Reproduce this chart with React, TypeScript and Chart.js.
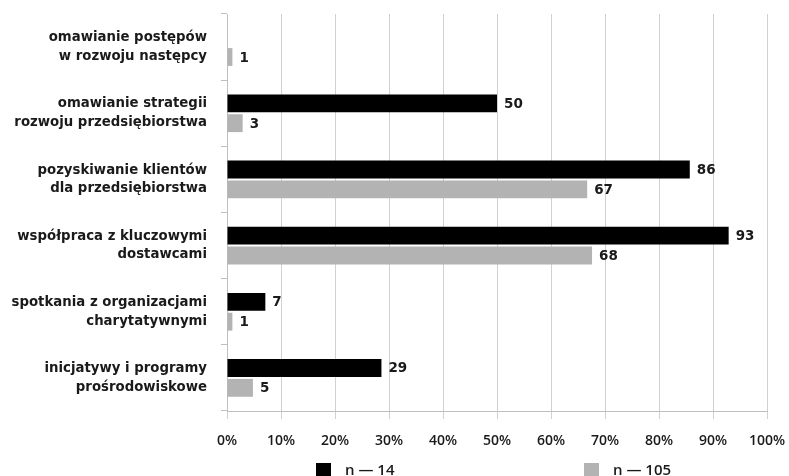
import React, { useEffect, useRef } from "react";
import { Chart, registerables } from "chart.js";

Chart.register(...registerables);

const categories: string[][] = [
  ["omawianie postępów", "w rozwoju następcy"],
  ["omawianie strategii", "rozwoju przedsiębiorstwa"],
  ["pozyskiwanie klientów", "dla przedsiębiorstwa"],
  ["współpraca z kluczowymi", "dostawcami"],
  ["spotkania z organizacjami", "charytatywnymi"],
  ["inicjatywy i programy", "prośrodowiskowe"],
];

const seriesNames = ["n — 14", "n — 105"];
const valuesN14: (number | null)[] = [null, 50, 85.7, 92.9, 7.1, 28.6];
const valuesN105: (number | null)[] = [1.0, 2.9, 66.7, 67.6, 1.0, 4.8];
const xTicks = [0, 10, 20, 30, 40, 50, 60, 70, 80, 90, 100];

const COLORS = ["#000000", "#b3b3b3"];
const LABEL_FONT = "bold 13.5px 'DejaVu Sans', sans-serif";

const valueLabels = {
  id: "valueLabels",
  afterDatasetsDraw(chart: any) {
    const ctx = chart.ctx;
    ctx.save();
    ctx.font = LABEL_FONT;
    ctx.fillStyle = "#1a1a1a";
    ctx.textAlign = "left";
    ctx.textBaseline = "middle";
    chart.data.datasets.forEach((ds: any, di: number) => {
      const meta = chart.getDatasetMeta(di);
      meta.data.forEach((bar: any, i: number) => {
        const v = ds.data[i];
        if (v === null || v === undefined) return;
        ctx.fillText(String(Math.round(v)), bar.x + 7, bar.y + 1);
      });
    });
    ctx.restore();
  },
};

export default function App() {
  const ref = useRef<HTMLCanvasElement | null>(null);
  useEffect(() => {
    if (!ref.current) return;
    const chart = new Chart(ref.current, {
      type: "bar",
      data: {
        labels: categories,
        datasets: [
          {
            label: seriesNames[0],
            data: valuesN14,
            backgroundColor: COLORS[0],
            categoryPercentage: 0.6,
            barPercentage: 0.9,
          },
          {
            label: seriesNames[1],
            data: valuesN105,
            backgroundColor: COLORS[1],
            categoryPercentage: 0.6,
            barPercentage: 0.9,
          },
        ],
      },
      options: {
        indexAxis: "y",
        animation: false,
        responsive: false,
        maintainAspectRatio: false,
        layout: { padding: { top: 14, right: 22, bottom: 20, left: 0 } },
        plugins: {
          legend: { display: false },
          tooltip: { enabled: false },
        },
        scales: {
          x: {
            min: 0,
            max: 100,
            afterBuildTicks: (scale: any) => {
              scale.ticks = xTicks.map((v) => ({ value: v }));
            },
            afterFit: (scale: any) => {
              scale.height = 45;
              scale.paddingLeft = 0;
              scale.paddingRight = 0;
              scale.paddingTop = 0;
              scale.paddingBottom = 0;
            },
            ticks: {
              callback: (v: any) => v + "%",
              color: "#1a1a1a",
              font: { family: "'Open Sans', sans-serif", size: 14, weight: "600" },
              padding: 14,
              maxRotation: 0,
            },
            grid: {
              color: "#d0d0d0",
              lineWidth: 1,
              tickLength: 8,
              drawOnChartArea: true,
            },
            border: { color: "#bfbfbf" },
          },
          y: {
            afterFit: (scale: any) => {
              scale.width = 227;
              scale.paddingTop = 0;
              scale.paddingBottom = 0;
              scale.paddingLeft = 0;
              scale.paddingRight = 0;
            },
            ticks: {
              color: "#1a1a1a",
              font: { family: "'DejaVu Sans', sans-serif", size: 13.3, weight: "bold", lineHeight: 1.4 },
              padding: 14,
              crossAlign: "near",
            },
            grid: {
              drawOnChartArea: false,
              drawTicks: true,
              tickLength: 6,
              color: "#bfbfbf",
              offset: true,
            },
            border: { color: "#bfbfbf" },
          },
        },
      },
      plugins: [valueLabels],
    } as any);
    return () => chart.destroy();
  }, []);

  const legendText: React.CSSProperties = {
    position: "absolute",
    fontFamily: "'Open Sans', sans-serif",
    fontWeight: 600,
    fontSize: "15px",
    color: "#1a1a1a",
    lineHeight: "18px",
    whiteSpace: "nowrap",
  };

  return (
    <div style={{ position: "absolute", left: 0, top: 0, width: 789, height: 476, background: "#fff", overflow: "hidden" }}>
      <canvas ref={ref} width={789} height={476} style={{ display: "block" }} />
      <div style={{ position: "absolute", left: 316, top: 463, width: 15, height: 15, background: COLORS[0] }} />
      <div style={{ ...legendText, left: 345, top: 460 }}>{seriesNames[0]}</div>
      <div style={{ position: "absolute", left: 584, top: 463, width: 15, height: 15, background: COLORS[1] }} />
      <div style={{ ...legendText, left: 613, top: 460 }}>{seriesNames[1]}</div>
    </div>
  );
}
